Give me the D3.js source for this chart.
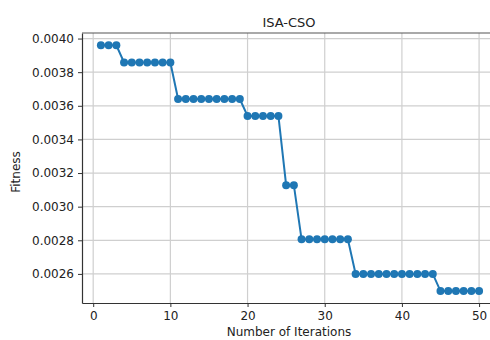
<!DOCTYPE html>
<html>
<head>
<meta charset="utf-8">
<script src="https://cdn.jsdelivr.net/npm/d3@7"></script>
<style>
  body { margin: 0; background: #fff; }
  svg { display: block; font-family: 'DejaVu Sans', sans-serif; }
</style>
</head>
<body>
<div id="chart"></div>
<script>
const WIDTH = 490
const HEIGHT = 340

// fitness per iteration
const iterations = d3.range(1, 51)
const fitness = [
    0.00396, 0.00396, 0.00396,
    0.003858, 0.003858, 0.003858, 0.003858, 0.003858, 0.003858, 0.003858,
    0.003640, 0.003640, 0.003640, 0.003640, 0.003640, 0.003640, 0.003640, 0.003640, 0.003640,
    0.003540, 0.003540, 0.003540, 0.003540, 0.003540,
    0.003128, 0.003128,
    0.002806, 0.002806, 0.002806, 0.002806, 0.002806, 0.002806, 0.002806,
    0.002600, 0.002600, 0.002600, 0.002600, 0.002600, 0.002600, 0.002600, 0.002600, 0.002600, 0.002600, 0.002600,
    0.002498, 0.002498, 0.002498, 0.002498, 0.002498, 0.002498
]
const xTicks = [0, 10, 20, 30, 40, 50]
const yTicks = [0.0026, 0.0028, 0.0030, 0.0032, 0.0034, 0.0036, 0.0038, 0.0040]

const data = iterations.map((it, i) => ({ it: it, v: fitness[i] }))

const margin = { top: 33, left: 82, bottom: 303, right: 498 }

const svg = d3.select('#chart')
    .append('svg')
    .attr('width', WIDTH)
    .attr('height', HEIGHT)

const xScale = d3.scaleLinear()
    .domain([-1.45, 52.45])
    .range([margin.left, margin.right])

const yScale = d3.scaleLinear()
    .domain([0.002427, 0.004033])
    .range([margin.bottom, margin.top])

// grid
svg.append('g')
    .selectAll('line')
    .data(xTicks)
    .join('line')
    .attr('x1', d => xScale(d)).attr('x2', d => xScale(d))
    .attr('y1', margin.top).attr('y2', margin.bottom)
    .attr('stroke', '#cfcfcf').attr('stroke-width', 1.2)

svg.append('g')
    .selectAll('line')
    .data(yTicks)
    .join('line')
    .attr('x1', margin.left).attr('x2', margin.right)
    .attr('y1', d => yScale(d)).attr('y2', d => yScale(d))
    .attr('stroke', '#cfcfcf').attr('stroke-width', 1.2)

// axes
const xAxis = svg.append('g')
    .attr('transform', `translate(0, ${margin.bottom})`)
    .call(d3.axisBottom(xScale).tickValues(xTicks).tickSize(4).tickPadding(4).tickSizeOuter(0))
const yAxis = svg.append('g')
    .attr('transform', `translate(${margin.left}, 0)`)
    .call(d3.axisLeft(yScale).tickValues(yTicks).tickFormat(d3.format('.4f')).tickSize(4).tickPadding(4).tickSizeOuter(0))

;[xAxis, yAxis].forEach(a => {
    a.selectAll('text').attr('font-size', 12).attr('fill', '#222').style('font-family', 'DejaVu Sans')
    a.selectAll('line').attr('stroke', '#333')
    a.select('.domain').attr('stroke', '#333').attr('stroke-width', 1.2)
})

// top spine
svg.append('line')
    .attr('x1', margin.left).attr('x2', margin.right)
    .attr('y1', margin.top).attr('y2', margin.top)
    .attr('stroke', '#555').attr('stroke-width', 1.2)

// series
const line = d3.line()
    .x(d => xScale(d.it))
    .y(d => yScale(d.v))

svg.append('path')
    .datum(data)
    .attr('d', line)
    .attr('fill', 'none')
    .attr('stroke', '#1f77b4')
    .attr('stroke-width', 2)

svg.append('g')
    .selectAll('circle')
    .data(data)
    .join('circle')
    .attr('cx', d => xScale(d.it))
    .attr('cy', d => yScale(d.v))
    .attr('r', 4)
    .attr('fill', '#1f77b4')

// labels
svg.append('text')
    .attr('x', 289).attr('y', 27)
    .attr('text-anchor', 'middle')
    .attr('font-size', 13)
    .attr('fill', '#222')
    .text('ISA-CSO')

svg.append('text')
    .attr('x', 289).attr('y', 336)
    .attr('text-anchor', 'middle')
    .attr('font-size', 12)
    .attr('fill', '#222')
    .text('Number of Iterations')

svg.append('text')
    .attr('transform', `translate(20, 172) rotate(-90)`)
    .attr('text-anchor', 'middle')
    .attr('font-size', 12)
    .attr('fill', '#222')
    .text('Fitness')
</script>
</body>
</html>
